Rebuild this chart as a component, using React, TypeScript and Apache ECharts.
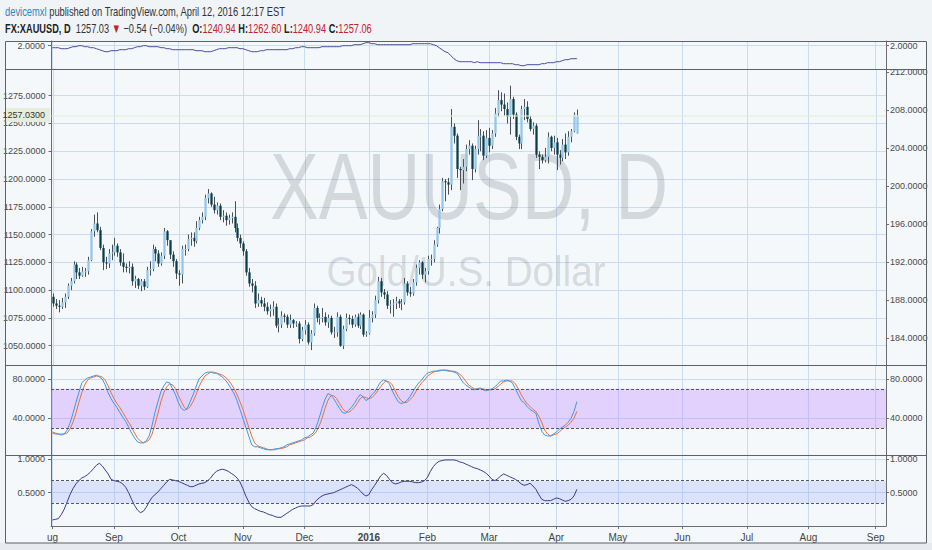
import { useEffect, useRef } from "react";
import * as echarts from "echarts";

// daily XAUUSD candles, Aug 3 2015 .. Apr 12 2016: [open, close, low, high]
const ohlc = [
  [1094, 1088, 1085, 1097], [1088, 1086, 1083, 1092], [1086, 1085, 1080, 1091], [1085, 1089, 1083, 1093],
  [1089, 1094, 1084, 1097], [1094, 1104, 1092, 1106], [1104, 1108, 1100, 1111], [1108, 1123, 1106, 1126],
  [1123, 1116, 1110, 1125], [1116, 1113, 1110, 1120], [1113, 1117, 1112, 1121], [1117, 1117, 1112, 1120],
  [1117, 1127, 1114, 1130], [1127, 1153, 1126, 1155], [1153, 1160, 1148, 1168], [1160, 1154, 1152, 1170],
  [1154, 1138, 1136, 1157], [1138, 1125, 1118, 1141], [1125, 1124, 1119, 1130], [1124, 1133, 1120, 1137],
  [1133, 1134, 1127, 1141],
  // Sep
  [1134, 1140, 1131, 1147], [1140, 1134, 1130, 1142], [1134, 1125, 1122, 1137], [1125, 1121, 1116, 1133],
  [1121, 1120, 1116, 1124], [1120, 1121, 1115, 1126], [1121, 1108, 1104, 1124], [1108, 1110, 1102, 1113],
  [1110, 1104, 1101, 1111], [1104, 1108, 1099, 1110], [1108, 1103, 1100, 1110], [1103, 1118, 1102, 1121],
  [1118, 1119, 1113, 1126], [1119, 1137, 1117, 1141], [1137, 1133, 1126, 1139], [1133, 1124, 1121, 1136],
  [1124, 1131, 1122, 1134], [1131, 1153, 1128, 1156], [1153, 1145, 1140, 1154], [1145, 1132, 1128, 1141],
  [1132, 1126, 1121, 1135], [1126, 1115, 1110, 1128],
  // Oct
  [1115, 1114, 1104, 1118], [1114, 1137, 1106, 1140], [1137, 1137, 1131, 1141], [1137, 1146, 1135, 1150],
  [1146, 1147, 1140, 1152], [1147, 1144, 1139, 1152], [1144, 1156, 1142, 1162], [1156, 1163, 1154, 1166],
  [1163, 1166, 1160, 1170], [1166, 1183, 1163, 1186], [1183, 1187, 1178, 1191], [1187, 1177, 1175, 1188],
  [1177, 1172, 1169, 1184], [1172, 1176, 1168, 1179], [1176, 1166, 1163, 1178], [1166, 1167, 1161, 1172],
  [1167, 1163, 1158, 1170], [1163, 1165, 1159, 1168], [1165, 1166, 1160, 1170], [1166, 1156, 1152, 1180],
  [1156, 1147, 1144, 1160], [1147, 1142, 1138, 1150],
  // Nov
  [1142, 1135, 1131, 1144], [1135, 1116, 1113, 1137], [1116, 1106, 1103, 1120], [1106, 1104, 1098, 1110],
  [1104, 1088, 1084, 1108], [1088, 1091, 1085, 1097], [1091, 1088, 1085, 1094], [1088, 1085, 1081, 1093],
  [1085, 1081, 1078, 1089], [1081, 1083, 1076, 1087], [1083, 1085, 1077, 1090], [1085, 1068, 1066, 1088],
  [1068, 1069, 1062, 1075], [1069, 1077, 1066, 1081], [1077, 1076, 1071, 1079], [1076, 1069, 1066, 1078],
  [1069, 1073, 1066, 1078], [1073, 1070, 1066, 1074], [1070, 1070, 1067, 1072], [1070, 1056, 1052, 1072],
  [1056, 1064, 1054, 1067],
  // Dec
  [1064, 1069, 1060, 1073], [1069, 1053, 1051, 1071], [1053, 1061, 1046, 1064], [1061, 1084, 1059, 1088],
  [1084, 1075, 1071, 1086], [1075, 1075, 1069, 1079], [1075, 1076, 1071, 1084], [1076, 1071, 1068, 1080],
  [1071, 1075, 1066, 1078], [1075, 1062, 1060, 1077], [1062, 1062, 1057, 1067], [1062, 1076, 1058, 1080],
  [1076, 1050, 1049, 1078], [1050, 1065, 1047, 1068], [1065, 1075, 1063, 1079], [1075, 1074, 1069, 1078],
  [1074, 1069, 1066, 1077], [1069, 1076, 1067, 1078], [1076, 1068, 1066, 1079], [1068, 1078, 1065, 1080],
  [1078, 1060, 1058, 1079], [1060, 1061, 1058, 1063],
  // Jan 2016
  [1061, 1075, 1060, 1082], [1075, 1078, 1071, 1081], [1078, 1091, 1075, 1095], [1091, 1108, 1088, 1112],
  [1108, 1098, 1094, 1111], [1098, 1096, 1092, 1101], [1096, 1086, 1083, 1099], [1086, 1087, 1079, 1091],
  [1087, 1088, 1076, 1092], [1088, 1090, 1083, 1094], [1090, 1088, 1084, 1092], [1088, 1089, 1082, 1092],
  [1089, 1106, 1087, 1111], [1106, 1098, 1095, 1108], [1098, 1097, 1094, 1103], [1097, 1107, 1095, 1110],
  [1107, 1120, 1104, 1123], [1120, 1125, 1114, 1127], [1125, 1114, 1110, 1126], [1114, 1117, 1107, 1120],
  // Feb
  [1117, 1128, 1114, 1131], [1128, 1128, 1122, 1132], [1128, 1141, 1125, 1145], [1141, 1156, 1139, 1157],
  [1156, 1173, 1151, 1177], [1173, 1198, 1171, 1201], [1198, 1197, 1180, 1200], [1197, 1195, 1186, 1201],
  [1195, 1247, 1190, 1263], [1247, 1239, 1232, 1250], [1239, 1209, 1201, 1241], [1209, 1208, 1190, 1211],
  [1208, 1211, 1196, 1218], [1211, 1227, 1207, 1231], [1227, 1230, 1222, 1235], [1230, 1209, 1199, 1232],
  [1209, 1227, 1206, 1230], [1227, 1239, 1222, 1253], [1239, 1239, 1225, 1245], [1239, 1221, 1217, 1243],
  [1221, 1237, 1219, 1244],
  // Mar
  [1237, 1230, 1224, 1246], [1230, 1241, 1227, 1244], [1241, 1259, 1238, 1264], [1259, 1271, 1256, 1280],
  [1271, 1267, 1261, 1278], [1267, 1263, 1257, 1277], [1263, 1256, 1250, 1269], [1256, 1272, 1240, 1284],
  [1272, 1258, 1254, 1274], [1258, 1238, 1235, 1260], [1238, 1232, 1227, 1240], [1232, 1263, 1227, 1266],
  [1263, 1265, 1253, 1272], [1265, 1254, 1251, 1270], [1254, 1245, 1243, 1257], [1245, 1248, 1240, 1251],
  [1248, 1222, 1219, 1250], [1222, 1220, 1209, 1225], [1220, 1217, 1214, 1222], [1217, 1220, 1215, 1228],
  [1220, 1238, 1214, 1242], [1238, 1228, 1225, 1239], [1228, 1233, 1222, 1239],
  // Apr
  [1233, 1222, 1208, 1237], [1222, 1219, 1213, 1226], [1219, 1231, 1216, 1236], [1231, 1224, 1218, 1241],
  [1224, 1238, 1221, 1243], [1238, 1243, 1233, 1245], [1243, 1258, 1242, 1260], [1240.94, 1257.06, 1240.94, 1262.6],
];

const stochK = [
  25, 24, 24, 23, 24, 28, 35, 45, 56, 66,
  76, 79, 81, 82, 83, 84, 82, 80, 74, 66,
  60, 55, 51, 46, 41, 37, 31, 25, 20, 16,
  15, 15, 17, 22, 33, 46, 57, 67, 73, 77,
  76, 70, 64, 56, 50, 48, 50, 57, 64, 72,
  80, 83, 86, 87, 87, 86, 86, 84, 82, 79,
  75, 70, 65, 58, 49, 40, 31, 22, 13, 11,
  11, 10, 9, 8, 8, 8, 9, 9, 10, 11,
  13, 14, 15, 16, 17, 18, 20, 21, 23, 25,
  31, 40, 50, 59, 65, 64, 60, 55, 50, 46,
  45, 48, 51, 55, 60, 64, 62, 58, 60, 64,
  67, 72, 77, 79, 78, 75, 68, 62, 57, 55,
  56, 58, 62, 67, 72, 76, 79, 83, 86, 87,
  88, 88, 89, 89, 89, 88, 88, 87, 86, 82,
  77, 74, 72, 70, 69, 70, 71, 69, 68, 69,
  70, 72, 75, 78, 78, 79, 78, 76, 70, 64,
  58, 56, 52, 49, 47, 45, 35, 27, 23, 22,
  22, 24, 26, 29, 31, 33, 36, 40, 47, 57,
];

const stochD = [
  26, 25, 24, 24, 24, 25, 29, 36, 45, 56,
  66, 74, 79, 81, 82, 83, 83, 82, 79, 73,
  66, 60, 55, 51, 46, 41, 36, 31, 25, 20,
  17, 15, 16, 18, 24, 34, 45, 57, 66, 72,
  75, 74, 70, 63, 57, 51, 49, 52, 57, 64,
  72, 78, 83, 85, 87, 87, 86, 85, 84, 82,
  79, 75, 70, 64, 57, 49, 40, 31, 22, 15,
  12, 11, 10, 9, 8, 8, 8, 9, 9, 10,
  11, 13, 14, 15, 16, 17, 18, 20, 21, 23,
  26, 32, 40, 50, 58, 63, 63, 60, 55, 50,
  47, 46, 48, 51, 55, 60, 62, 61, 60, 61,
  64, 68, 72, 76, 78, 77, 74, 68, 62, 58,
  56, 56, 59, 62, 67, 72, 76, 79, 83, 85,
  87, 88, 88, 89, 89, 89, 88, 88, 87, 85,
  82, 78, 74, 72, 70, 70, 70, 70, 69, 69,
  69, 70, 72, 75, 77, 78, 78, 78, 75, 70,
  64, 59, 55, 52, 49, 47, 42, 36, 28, 24,
  22, 23, 24, 26, 29, 31, 33, 36, 40, 47,
];

const lowerLine = [
  0.09, 0.10, 0.11, 0.17, 0.25, 0.36, 0.47, 0.56, 0.63, 0.68,
  0.72, 0.74, 0.77, 0.81, 0.86, 0.91, 0.94, 0.90, 0.84, 0.78,
  0.70, 0.68, 0.67, 0.66, 0.63, 0.58, 0.50, 0.40, 0.31, 0.24,
  0.20, 0.22, 0.28, 0.36, 0.43, 0.47, 0.51, 0.56, 0.61, 0.66,
  0.70, 0.69, 0.68, 0.67, 0.65, 0.63, 0.61, 0.59, 0.59, 0.61,
  0.63, 0.64, 0.65, 0.68, 0.72, 0.78, 0.82, 0.84, 0.85, 0.84,
  0.82, 0.79, 0.76, 0.72, 0.66, 0.56, 0.45, 0.36, 0.29, 0.26,
  0.24, 0.22, 0.21, 0.19, 0.17, 0.16, 0.14, 0.13, 0.13, 0.16,
  0.19, 0.22, 0.25, 0.27, 0.29, 0.30, 0.30, 0.30, 0.30, 0.32,
  0.38, 0.42, 0.45, 0.47, 0.48, 0.49, 0.50, 0.52, 0.54, 0.56,
  0.58, 0.60, 0.62, 0.60, 0.57, 0.53, 0.48, 0.45, 0.47, 0.55,
  0.61, 0.68, 0.75, 0.79, 0.76, 0.70, 0.65, 0.63, 0.64, 0.66,
  0.67, 0.67, 0.67, 0.66, 0.65, 0.65, 0.66, 0.68, 0.73, 0.82,
  0.89, 0.94, 0.97, 0.98, 0.99, 0.99, 0.99, 0.99, 0.98, 0.96,
  0.95, 0.93, 0.91, 0.89, 0.87, 0.86, 0.84, 0.82, 0.79, 0.75,
  0.70, 0.68, 0.71, 0.75, 0.78, 0.76, 0.74, 0.72, 0.70, 0.67,
  0.63, 0.61, 0.62, 0.64, 0.60, 0.55, 0.47, 0.40, 0.38, 0.38,
  0.38, 0.40, 0.42, 0.41, 0.39, 0.37, 0.38, 0.40, 0.45, 0.55,
];

const upperLine = [
  1.98, 1.98, 1.98, 1.97, 1.97, 1.97, 1.98, 1.99, 1.99, 2.00,
  2.00, 1.99, 1.99, 1.98, 1.98, 1.97, 1.96, 1.95, 1.94, 1.94,
  1.95, 1.95, 1.95, 1.96, 1.96, 1.96, 1.97, 1.97, 1.98, 1.99,
  1.99, 2.00, 2.00, 1.99, 1.99, 1.99, 1.99, 1.98, 1.98, 1.97,
  1.97, 1.96, 1.96, 1.96, 1.96, 1.96, 1.96, 1.96, 1.96, 1.95,
  1.95, 1.95, 1.94, 1.94, 1.94, 1.95, 1.96, 1.97, 1.97, 1.97,
  1.98, 1.98, 1.98, 1.98, 1.97, 1.97, 1.96, 1.95, 1.94, 1.94,
  1.94, 1.95, 1.95, 1.96, 1.96, 1.96, 1.96, 1.96, 1.96, 1.96,
  1.96, 1.97, 1.97, 1.98, 1.98, 1.99, 1.99, 1.98, 1.98, 1.98,
  1.98, 1.98, 1.99, 1.99, 1.99, 1.99, 1.99, 1.99, 1.99, 2.00,
  2.00, 2.00, 2.00, 2.01, 2.01, 2.01, 2.02, 2.03, 2.03, 2.02,
  2.02, 2.01, 2.01, 2.01, 2.01, 2.01, 2.01, 2.01, 2.01, 2.01,
  2.01, 2.01, 2.01, 2.02, 2.02, 2.02, 2.02, 2.02, 2.02, 2.02,
  2.01, 2.00, 1.98, 1.96, 1.94, 1.93, 1.90, 1.87, 1.85, 1.84,
  1.84, 1.84, 1.84, 1.84, 1.83, 1.84, 1.83, 1.83, 1.83, 1.83,
  1.83, 1.83, 1.83, 1.83, 1.82, 1.82, 1.82, 1.82, 1.81, 1.81,
  1.80, 1.80, 1.81, 1.81, 1.81, 1.81, 1.81, 1.82, 1.82, 1.83,
  1.83, 1.83, 1.84, 1.84, 1.85, 1.86, 1.86, 1.87, 1.87, 1.87,
];

// first trading day of each month on the axis (index into the daily slots)
const monthTicks: [number, string][] = [
  [0, "ug"], [21, "Sep"], [43, "Oct"], [65, "Nov"], [86, "Dec"], [108, "2016"], [128, "Feb"],
  [149, "Mar"], [172, "Apr"], [193, "May"], [215, "Jun"], [237, "Jul"], [258, "Aug"], [281, "Sep"],
];
const slotCount = 285;

const priceTicks = [1050, 1075, 1100, 1125, 1150, 1175, 1200, 1225, 1250, 1275];
const rightPriceTicks = [184, 188, 192, 196, 200, 204, 208, 212];
const stochTicks = [40, 80];
const stochBand = [30, 70];
const lowerTicks = [0.5, 1];
const lowerBand = [0.34, 0.675];
const upperTicks = [2];
const lastPrice = 1257.03;

const FONT = "'Liberation Sans', Arial, sans-serif";
const GRID_COLOR = "#c9dcf2";
const AXIS_COLOR = "#6a6e73";

function App() {
  const chartRef = useRef<HTMLDivElement>(null);

  useEffect(() => {
    if (!chartRef.current) return;
    const chart = echarts.init(chartRef.current, null, { renderer: "svg" });

    const slots = Array.from({ length: slotCount }, (_, i) => String(i));
    const tickMap = new Map(monthTicks);
    const isMonth = (i: number) => tickMap.has(i);

    const xAxis = (grid: number, labels: boolean) => ({
      type: "category",
      gridIndex: grid,
      data: slots,
      boundaryGap: true,
      axisLine: { show: labels, lineStyle: { color: AXIS_COLOR } },
      axisTick: { show: labels, interval: isMonth, alignWithLabel: true, length: 3, lineStyle: { color: AXIS_COLOR } },
      axisLabel: {
        show: labels,
        interval: isMonth,
        formatter: (_v: string, i: number) => {
          const t = tickMap.get(i) || "";
          return t === "2016" ? "{b|2016}" : t;
        },
        color: "#444",
        fontSize: 10,
        fontFamily: FONT,
        margin: 6,
        rich: { b: { fontWeight: "bold", fontSize: 10, fontFamily: FONT, color: "#444" } },
      },
      splitLine: { show: true, interval: isMonth, alignWithLabel: true, lineStyle: { color: GRID_COLOR, width: 1 } },
    });

    const yAxis = (grid: number, pos: string, min: number, max: number, ticks: number[], split: boolean) => ({
      type: "value",
      gridIndex: grid,
      position: pos,
      min,
      max,
      axisLine: { show: true, lineStyle: { color: AXIS_COLOR } },
      axisTick: { show: true, length: 3, customValues: ticks, lineStyle: { color: AXIS_COLOR } },
      axisLabel: {
        customValues: ticks,
        formatter: (v: number) => v.toFixed(4),
        color: "#4a4a4a",
        fontSize: 9,
        fontFamily: FONT,
        margin: pos === "left" ? 6 : 4,
      },
      splitLine: { show: split, customValues: ticks, lineStyle: { color: GRID_COLOR, width: 1 } },
    });

    chart.setOption({
      animation: false,
      backgroundColor: "#f4f8fb",
      grid: [
        { left: 51, right: 46, top: 41, height: 28 },
        { left: 51, right: 46, top: 69, height: 296 },
        { left: 51, right: 46, top: 365, height: 90 },
        { left: 51, right: 46, top: 455, height: 71 },
      ],
      xAxis: [xAxis(0, false), xAxis(1, false), xAxis(2, false), xAxis(3, true)],
      yAxis: [
        yAxis(0, "left", 1.767, 2.047, upperTicks, true),
        yAxis(0, "right", 1.767, 2.047, upperTicks, false),
        yAxis(1, "left", 1032.63, 1299.03, priceTicks, true),
        yAxis(1, "right", 181.19, 212.35, rightPriceTicks, false),
        yAxis(2, "left", 2.65, 94.25, stochTicks, true),
        yAxis(2, "right", 2.65, 94.25, stochTicks, false),
        yAxis(3, "left", 0, 1.064, lowerTicks, true),
        yAxis(3, "right", 0, 1.064, lowerTicks, false),
      ],
      series: [
        {
          type: "line",
          xAxisIndex: 0,
          yAxisIndex: 0,
          data: upperLine,
          showSymbol: false,
          lineStyle: { color: "#4b4c9c", width: 1 },
        },
        {
          type: "custom",
          xAxisIndex: 1,
          yAxisIndex: 2,
          clip: false,
          encode: { x: 0, y: [1, 2, 3, 4] },
          data: ohlc.map((r, i) => [i, ...r]),
          renderItem: (_params: any, api: any) => {
            const i = api.value(0);
            const o = api.value(1);
            const c = api.value(2);
            const hi = api.coord([i, api.value(4)]);
            const lo = api.coord([i, api.value(3)]);
            const po = api.coord([i, o]);
            const pc = api.coord([i, c]);
            const bw = Math.max(1, api.size([1, 0])[0] * 0.78);
            const x = Math.round(hi[0]) + 0.5;
            const top = Math.min(po[1], pc[1]);
            const h = Math.max(1, Math.abs(po[1] - pc[1]));
            return {
              type: "group",
              children: [
                { type: "line", shape: { x1: x, y1: hi[1], x2: x, y2: lo[1] }, style: { stroke: "#4c4f53", lineWidth: 1 } },
                {
                  type: "rect",
                  shape: { x: x - bw / 2, y: top, width: bw, height: h },
                  style: { fill: c >= o ? "#93c6e9" : "#0b3d49" },
                },
              ],
            };
          },
          markLine: {
            silent: true,
            symbol: "none",
            label: { show: false },
            lineStyle: { type: "solid", color: "rgba(228,236,220,0.55)", width: 2 },
            data: [{ yAxis: lastPrice }],
          },
        },
        {
          type: "line",
          xAxisIndex: 2,
          yAxisIndex: 4,
          data: stochD,
          showSymbol: false,
          lineStyle: { color: "#ea7139", width: 1 },
          z: 3,
        },
        {
          type: "line",
          xAxisIndex: 2,
          yAxisIndex: 4,
          data: stochK,
          showSymbol: false,
          lineStyle: { color: "#3d98e6", width: 1 },
          z: 4,
          markArea: {
            silent: true,
            itemStyle: { color: "rgba(190,140,255,0.36)" },
            data: [[{ yAxis: stochBand[0] }, { yAxis: stochBand[1] }]],
          },
          markLine: {
            silent: true,
            symbol: "none",
            label: { show: false },
            lineStyle: { type: [3, 2], color: "#55575c", width: 1 },
            data: stochBand.map((v) => ({ yAxis: v })),
          },
        },
        {
          type: "line",
          xAxisIndex: 3,
          yAxisIndex: 6,
          data: lowerLine,
          showSymbol: false,
          lineStyle: { color: "#3b3c8c", width: 1 },
          markArea: {
            silent: true,
            itemStyle: { color: "rgba(120,140,255,0.2)" },
            data: [[{ yAxis: lowerBand[0] }, { yAxis: lowerBand[1] }]],
          },
          markLine: {
            silent: true,
            symbol: "none",
            label: { show: false },
            lineStyle: { type: [3, 2], color: "#55575c", width: 1 },
            data: lowerBand.map((v) => ({ yAxis: v })),
          },
        },
      ],
      graphic: [
        { type: "rect", silent: true, z: -1, shape: { x: 0, y: 0, width: 932, height: 41 }, style: { fill: "#f1f4f7" } },
        { type: "rect", silent: true, z: -1, shape: { x: 0, y: 543, width: 932, height: 7 }, style: { fill: "#e7ebef" } },
        { type: "rect", silent: true, z: -1, shape: { x: 0, y: 41, width: 5, height: 502 }, style: { fill: "#f1f4f7" } },
        { type: "rect", silent: true, z: -1, shape: { x: 927, y: 41, width: 5, height: 502 }, style: { fill: "#f1f4f7" } },
        {
          type: "rect",
          silent: true,
          z: 50,
          shape: { x: 5.5, y: 41.5, width: 921, height: 501.5 },
          style: { fill: "none", stroke: "#5e6166", lineWidth: 1 },
        },
        ...[69.5, 365.5, 455.5].map((y) => ({
          type: "line",
          silent: true,
          z: 50,
          shape: { x1: 5, y1: y, x2: 927, y2: y },
          style: { stroke: "#5e6166", lineWidth: 1 },
        })),
        {
          type: "text",
          silent: true,
          z: 1,
          x: 469,
          y: 186,
          scaleX: 0.77,
          style: {
            text: "XAUUSD, D",
            font: "95px 'Liberation Sans', Arial, sans-serif",
            fill: "rgba(110,116,126,0.24)",
            textAlign: "center",
            textVerticalAlign: "middle",
          },
        },
        {
          type: "text",
          silent: true,
          z: 1,
          x: 466,
          y: 271,
          scaleX: 0.92,
          style: {
            text: "Gold/U.S. Dollar",
            font: "42px 'Liberation Sans', Arial, sans-serif",
            fill: "rgba(110,116,126,0.24)",
            textAlign: "center",
            textVerticalAlign: "middle",
          },
        },
        {
          type: "group",
          z: 60,
          children: [
            { type: "rect", silent: true, z: 60, shape: { x: 6, y: 108, width: 44, height: 14 }, style: { fill: "#e6eedb" } },
            {
              type: "text",
              silent: true,
              z: 61,
              x: 45,
              y: 115,
              style: {
                text: lastPrice.toFixed(4),
                font: "9px " + FONT,
                fill: "#333",
                textAlign: "right",
                textVerticalAlign: "middle",
              },
            },
          ],
        },
        {
          type: "text",
          silent: true,
          z: 10,
          x: 5,
          y: 11.5,
          scaleX: 0.72,
          style: {
            text: "{u|devicemxl}{t| published on TradingView.com, April 12, 2016 12:17 EST}",
            font: "13px " + FONT,
            textVerticalAlign: "middle",
            rich: {
              u: { fill: "#2a87c0", fontSize: 13, fontFamily: FONT },
              t: { fill: "#333", fontSize: 13, fontFamily: FONT },
            },
          },
        },
        {
          type: "text",
          silent: true,
          z: 10,
          x: 5,
          y: 28,
          scaleX: 0.71,
          style: {
            text:
              "{b|FX:XAUUSD, D}{n|  1257.03 }{r|▼}{n| −0.54 (−0.04%)  }{b|O:}{r|1240.94}{b| H:}{r|1262.60}{b| L:}{r|1240.94}{b| C:}{r|1257.06}",
            font: "13px " + FONT,
            textVerticalAlign: "middle",
            rich: {
              b: { fill: "#222", fontWeight: "bold", fontSize: 13, fontFamily: FONT },
              n: { fill: "#333", fontSize: 13, fontFamily: FONT },
              r: { fill: "#c0232b", fontSize: 13, fontFamily: FONT },
            },
          },
        },
      ],
    });

    return () => {
      chart.dispose();
    };
  }, []);

  return (
    <div
      ref={chartRef}
      style={{ position: "absolute", left: 0, top: 0, width: "932px", height: "550px" }}
    />
  );
}

export default App;
